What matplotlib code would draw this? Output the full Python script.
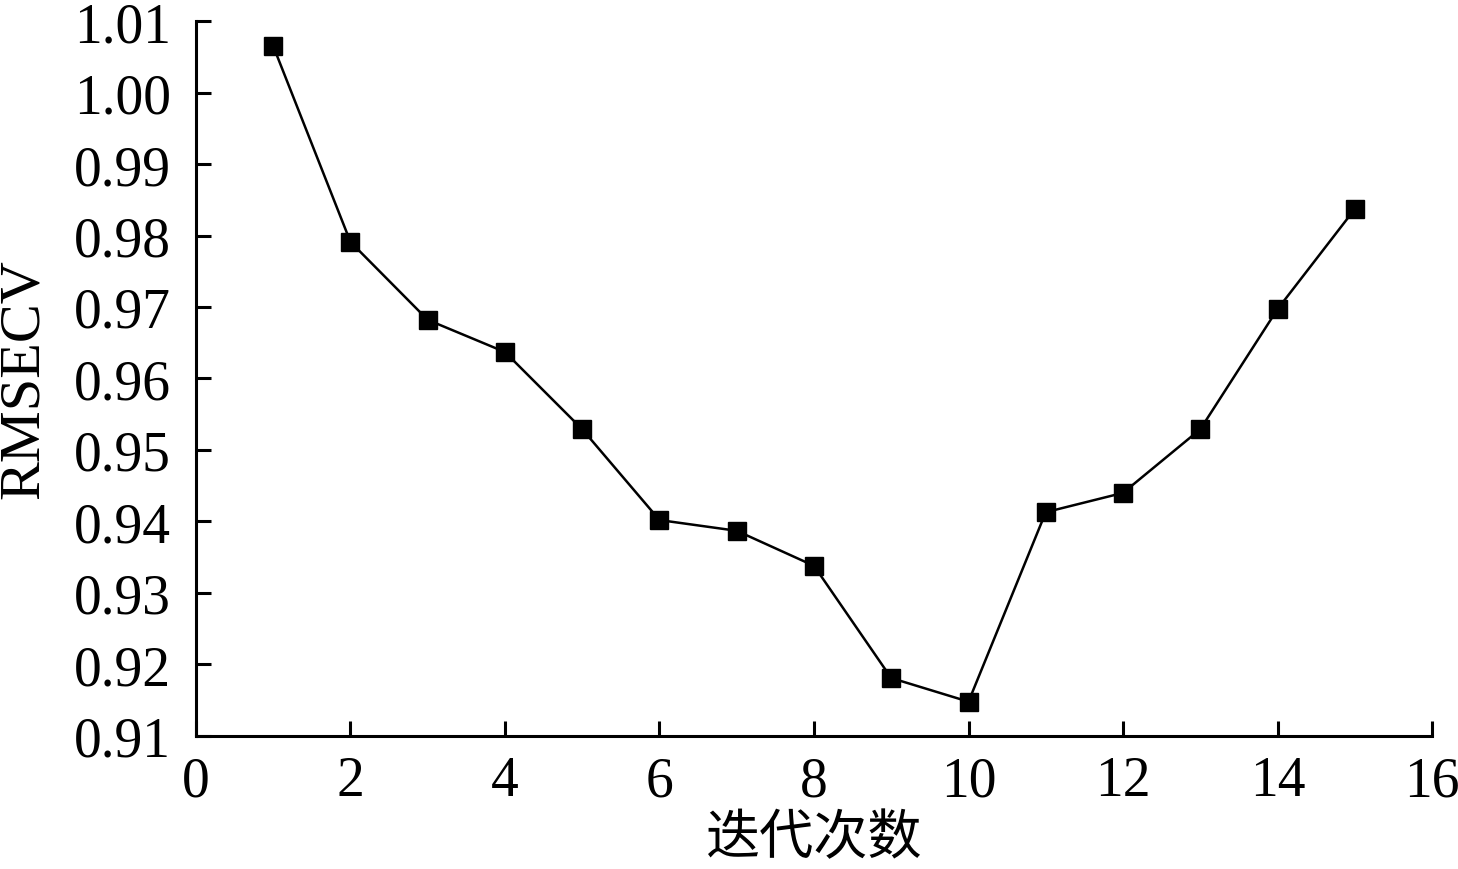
import numpy as np
import matplotlib
matplotlib.use("Agg")
import matplotlib.pyplot as plt

plt.rcParams['font.family'] = ['Liberation Serif', 'Noto Sans CJK SC']

# 迭代次数 与 RMSECV
iters = [1, 2, 3, 4, 5, 6, 7, 8, 9, 10, 11, 12, 13, 14, 15]
rmsecv = [1.0065, 0.9791, 0.9682, 0.9637, 0.9529, 0.9402, 0.9387, 0.9338,
          0.9181, 0.9148, 0.9413, 0.9440, 0.9529, 0.9697, 0.9837]
x_ticks = [0, 2, 4, 6, 8, 10, 12, 14, 16]
y_ticks = [0.91, 0.92, 0.93, 0.94, 0.95, 0.96, 0.97, 0.98, 0.99, 1.00, 1.01]

fig = plt.figure(figsize=(14.58, 8.7), dpi=100)
ax = fig.add_axes([0.1344, 0.1529, 0.8478, 0.8218])

ax.plot(iters, rmsecv, color='black', lw=1.8, marker='s', markersize=13,
        markerfacecolor='black', markeredgecolor='black')

ax.set_xlim(0, 16)
ax.set_ylim(0.91, 1.01)
ax.set_xticks(x_ticks)
ax.set_yticks(y_ticks)
ax.set_yticklabels(['%.2f' % v for v in y_ticks])

for s in ['top', 'right']:
    ax.spines[s].set_visible(False)
for s in ['left', 'bottom']:
    ax.spines[s].set_linewidth(2.2)

ax.tick_params(direction='in', length=11, width=2.2, labelsize=40, colors='black')
ax.tick_params(axis='y', pad=18)
ax.tick_params(axis='x', pad=14)
ax.set_xlabel('迭代次数', fontsize=39, family=['Noto Sans CJK SC'], labelpad=2)
ax.set_ylabel('RMSECV', fontsize=42)
ax.yaxis.set_label_coords(-0.118, 0.5)

fig.savefig('out.png', dpi=100)
